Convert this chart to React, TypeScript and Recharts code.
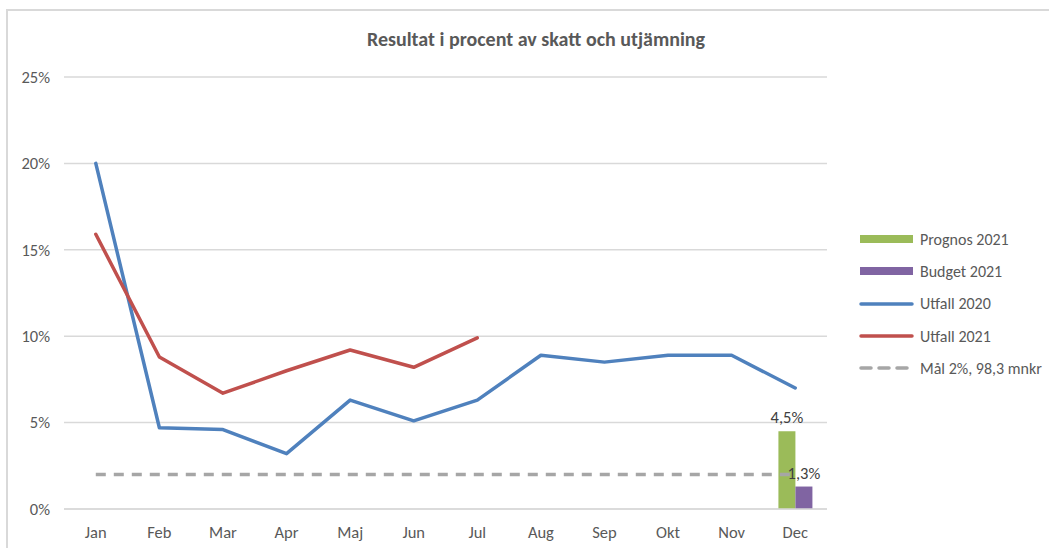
import React from 'react';
import {
  ComposedChart,
  Line,
  Bar,
  XAxis,
  YAxis,
  CartesianGrid,
  LabelList,
} from 'recharts';

const months = ['Jan', 'Feb', 'Mar', 'Apr', 'Maj', 'Jun', 'Jul', 'Aug', 'Sep', 'Okt', 'Nov', 'Dec'];
const utfall2020 = [20, 4.7, 4.6, 3.2, 6.3, 5.1, 6.3, 8.9, 8.5, 8.9, 8.9, 7.0];
const utfall2021 = [15.9, 8.8, 6.7, 8.0, 9.2, 8.2, 9.9, null, null, null, null, null];
const prognos2021 = [null, null, null, null, null, null, null, null, null, null, null, 4.5];
const budget2021 = [null, null, null, null, null, null, null, null, null, null, null, 1.3];
const goal = [2, 2, 2, 2, 2, 2, 2, 2, 2, 2, 2, 2];
const yTicks = [0, 5, 10, 15, 20, 25];

const FONT = 'Carlito, Calibri, "Liberation Sans", Arial, sans-serif';
const TEXT = '#595959';

const COLORS = {
  prognos: '#9bbb59',
  budget: '#8064a2',
  u2020: '#4f81bd',
  u2021: '#c0504d',
  goal: '#a6a6a6',
};

const data = months.map((m, i) => ({
  month: m,
  prognos: prognos2021[i],
  budget: budget2021[i],
  u2020: utfall2020[i],
  u2021: utfall2021[i],
  goal: goal[i],
}));

const legendItems = [
  { name: 'Prognos 2021', color: COLORS.prognos, kind: 'bar' },
  { name: 'Budget 2021', color: COLORS.budget, kind: 'bar' },
  { name: 'Utfall 2020', color: COLORS.u2020, kind: 'line' },
  { name: 'Utfall 2021', color: COLORS.u2021, kind: 'line' },
  { name: 'Mål 2%, 98,3 mnkr', color: COLORS.goal, kind: 'dash' },
];

const fmt = (v: any) => (v == null ? '' : `${String(v).replace('.', ',')}%`);

const ChartLegend = () => (
  <div style={{ position: 'absolute', left: 859, top: 223, fontFamily: FONT, fontSize: 16, color: TEXT }}>
    {legendItems.map((it) => (
      <div key={it.name} style={{ display: 'flex', alignItems: 'center', height: 32.3 }}>
        <svg width={56} height={10} style={{ marginRight: 5 }}>
          {it.kind === 'bar' && <rect x={1} y={1} width={53} height={8} fill={it.color} />}
          {it.kind === 'line' && (
            <line x1={2} y1={5} x2={53} y2={5} stroke={it.color} strokeWidth={3.5} strokeLinecap="round" />
          )}
          {it.kind === 'dash' && (
            <line x1={2} y1={5} x2={53} y2={5} stroke={it.color} strokeWidth={3.5} strokeDasharray="10 8" strokeLinecap="round" />
          )}
        </svg>
        <span>{it.name}</span>
      </div>
    ))}
  </div>
);

export default function App() {
  return (
    <div style={{ position: 'absolute', left: 0, top: 0, width: 1049, height: 548, overflow: 'hidden', background: '#fff' }}>
      <div
        style={{
          position: 'absolute',
          left: 6,
          top: 9,
          width: 1100,
          height: 600,
          border: '2px solid #d9d9d9',
        }}
      />
      <div
        style={{
          position: 'absolute',
          left: 0,
          width: 1072,
          top: 27,
          textAlign: 'center',
          fontFamily: FONT,
          fontWeight: 'bold',
          fontSize: 20,
          color: TEXT,
        }}
      >
        Resultat i procent av skatt och utjämning
      </div>
      <div style={{ position: 'absolute', left: 0, top: 0 }}>
        <ComposedChart
          width={1049}
          height={548}
          data={data}
          margin={{ top: 77, right: 222, bottom: 0, left: 0 }}
          barGap={0}
          barSize={17}
        >
          <CartesianGrid vertical={false} stroke="#d9d9d9" strokeWidth={1.5} />
          <XAxis
            dataKey="month"
            height={39}
            tickLine={false}
            axisLine={{ stroke: '#d9d9d9', strokeWidth: 1.5 }}
            tick={{ fill: TEXT, fontSize: 16.5, fontFamily: FONT }}
            tickMargin={11}
            interval={0}
          />
          <YAxis
            width={64}
            domain={[0, 25]}
            ticks={yTicks}
            tickFormatter={(v) => `${v}%`}
            axisLine={false}
            tickLine={false}
            tickSize={0}
            tickMargin={14}
            tick={{ fill: TEXT, fontSize: 16.5, fontFamily: FONT }}
          />
          <Bar dataKey="prognos" name="Prognos 2021" fill={COLORS.prognos} isAnimationActive={false}>
            <LabelList dataKey="prognos" position="top" offset={8} formatter={fmt} fill="#404040" fontSize={16.5} fontFamily={FONT} />
          </Bar>
          <Bar dataKey="budget" name="Budget 2021" fill={COLORS.budget} isAnimationActive={false}>
            <LabelList dataKey="budget" position="top" offset={8} formatter={fmt} fill="#404040" fontSize={16.5} fontFamily={FONT} />
          </Bar>
          <Line
            dataKey="u2020"
            name="Utfall 2020"
            stroke={COLORS.u2020}
            strokeWidth={3.5}
            dot={false}
            activeDot={false}
            strokeLinecap="round"
            strokeLinejoin="round"
            isAnimationActive={false}
          />
          <Line
            dataKey="u2021"
            name="Utfall 2021"
            stroke={COLORS.u2021}
            strokeWidth={3.5}
            dot={false}
            activeDot={false}
            strokeLinecap="round"
            strokeLinejoin="round"
            isAnimationActive={false}
          />
          <Line
            dataKey="goal"
            name="Mål 2%, 98,3 mnkr"
            stroke={COLORS.goal}
            strokeWidth={3.5}
            strokeDasharray="10 8"
            dot={false}
            activeDot={false}
            isAnimationActive={false}
          />
        </ComposedChart>
      </div>
      <ChartLegend />
    </div>
  );
}
